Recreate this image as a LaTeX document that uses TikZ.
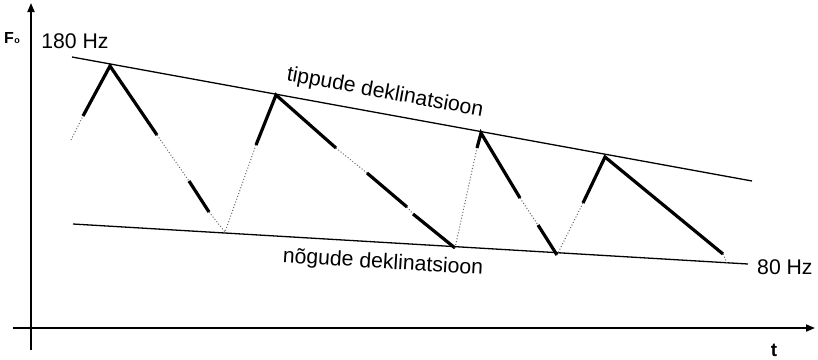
\documentclass[tikz,border=0pt]{standalone}
\usepackage{fontspec}
\setmainfont{Liberation Sans}
\usetikzlibrary{arrows.meta}
\begin{document}
\begin{tikzpicture}[x=1pt,y=-1pt,
  axis/.style={line width=1.8pt, -{Triangle[length=9pt,width=7pt]}},
  envelope/.style={line width=1.3pt},
  voiced/.style={line width=3.2pt},
  unvoiced/.style={line width=1pt, dash pattern=on 1pt off 2pt, black!60},
  lbl/.style={font=\fontsize{21.2}{23}\selectfont, inner sep=0pt}]
\useasboundingbox (0,0) rectangle (818,359);
% axes
\coordinate (ya0) at (31,350);
\coordinate (ya1) at (31,3);
\coordinate (xa0) at (13,328);
\coordinate (xa1) at (815,328);
\draw[axis] (ya0) -- (ya1);
\draw[axis] (xa0) -- (xa1);
\node[inner sep=0pt] (fo) at (12,38) {\fontsize{16}{18}\selectfont\bfseries F\kern0.3pt\raisebox{0.5pt}{\fontsize{9}{9}\selectfont o}};
\node[inner sep=0pt, font=\fontsize{19}{21}\selectfont\bfseries] (tl) at (774,350) {t};
% envelopes
\coordinate (tl0) at (72,57);
\coordinate (tl1) at (752,181);
\coordinate (bl0) at (73,224);
\coordinate (bl1) at (748,264);
\draw[envelope] (tl0) -- (tl1);
\draw[envelope] (bl0) -- (bl1);
\node[lbl] (hz180) at (75,41) {180 Hz};
\node[lbl, anchor=west] (hz80) at (757,267) {80 Hz};
\node[lbl, rotate=-10.4] (tip) at (385,93) {tippude deklinatsioon};
\node[lbl, rotate=-3.5] (nog) at (383,263) {nõgude deklinatsioon};
% contour points
\coordinate (s0) at (71,140);
\coordinate (a1) at (83,116);
\coordinate (P1) at (110,66);
\coordinate (a2) at (157,135);
\coordinate (a3) at (189,181);
\coordinate (a4) at (209,212);
\coordinate (T1) at (225,232);
\coordinate (a5) at (256,145);
\coordinate (P2) at (276,95);
\coordinate (a6) at (336,148);
\coordinate (a7) at (367,173);
\coordinate (a8) at (407,207);
\coordinate (a9) at (413,214);
\coordinate (T2) at (455,248);
\coordinate (a10) at (477,148);
\coordinate (P3) at (481,133);
\coordinate (a11) at (520,198);
\coordinate (a12) at (538,225);
\coordinate (T3) at (557,255);
\coordinate (a13) at (583,203);
\coordinate (P4) at (605,157);
\coordinate (a14) at (723,254);
\coordinate (e0) at (727,263);
% voiced parts
\draw[voiced] (a1) -- (P1) -- (a2);
\draw[voiced] (a3) -- (a4);
\draw[voiced] (a5) -- (P2) -- (a6);
\draw[voiced] (a7) -- (a8);
\draw[voiced] (a9) -- (T2);
\draw[voiced] (a10) -- (P3) -- (a11);
\draw[voiced] (a12) -- (T3);
\draw[voiced] (a13) -- (P4) -- (a14);
% unvoiced parts
\draw[unvoiced] (s0) -- (a1);
\draw[unvoiced] (a2) -- (a3);
\draw[unvoiced] (a4) -- (T1) -- (a5);
\draw[unvoiced] (a6) -- (a7);
\draw[unvoiced] (a8) -- (a9);
\draw[unvoiced] (T2) -- (a10);
\draw[unvoiced] (a11) -- (a12);
\draw[unvoiced] (T3) -- (a13);
\draw[unvoiced] (a14) -- (e0);
\end{tikzpicture}
\end{document}
